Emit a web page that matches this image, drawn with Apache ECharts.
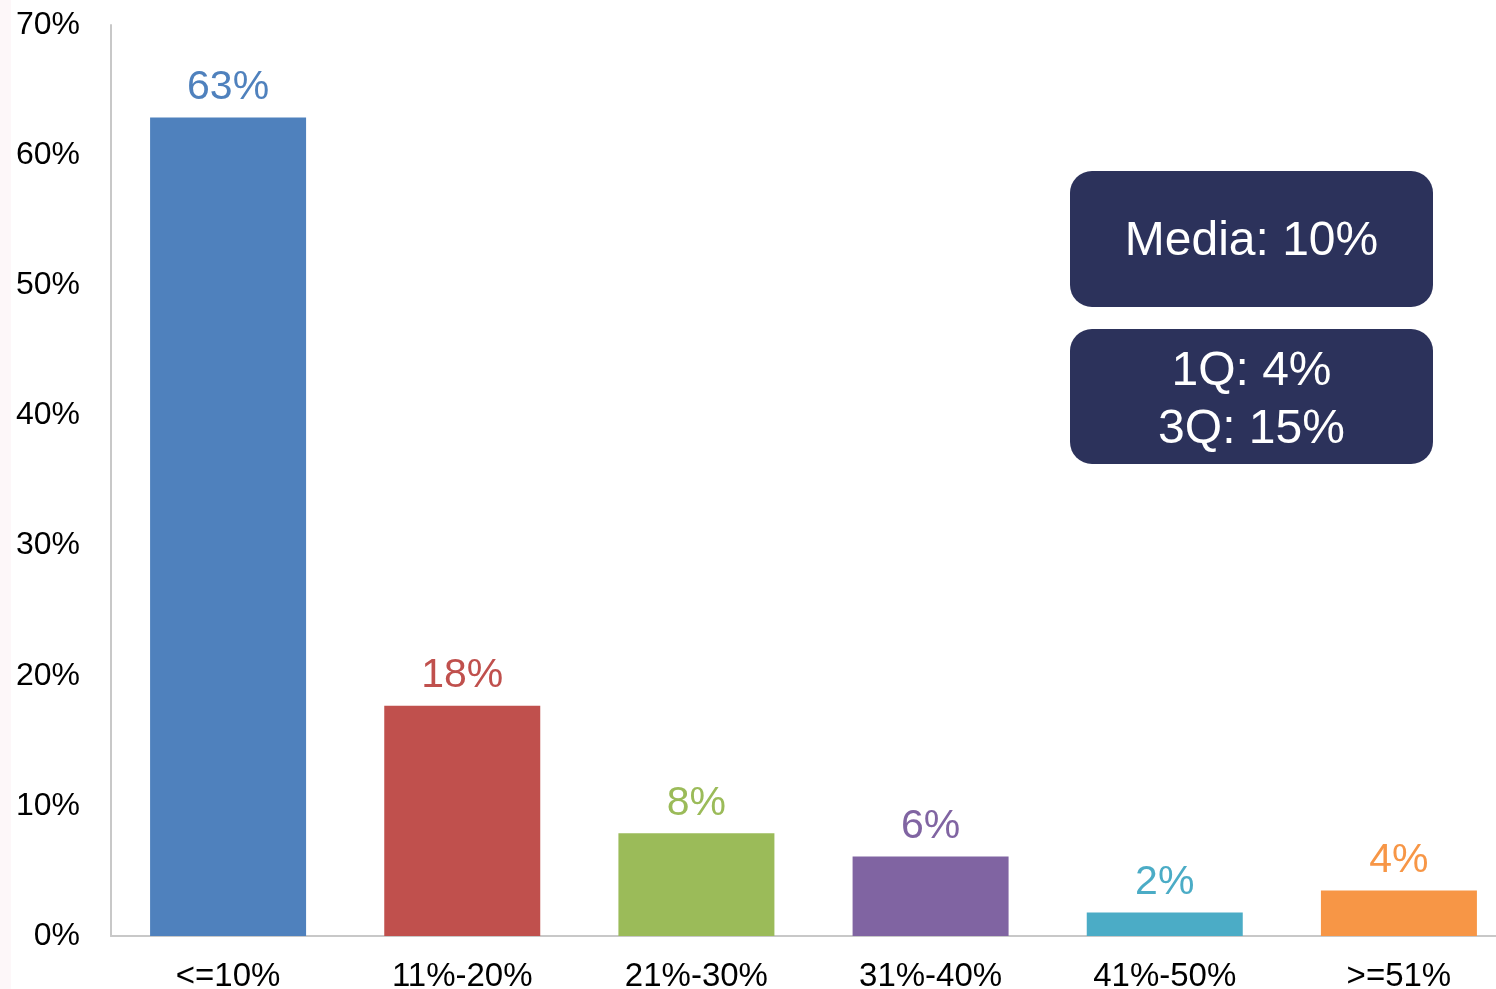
<!DOCTYPE html>
<html>
<head>
<meta charset="utf-8">
<script src="https://cdn.jsdelivr.net/npm/echarts@6/dist/echarts.min.js"></script>
<style>
html,body{margin:0;padding:0;background:#fff;overflow:hidden;width:1496px;height:989px;}
#chart{width:1520px;height:989px;}
</style>
</head>
<body>
<div id="chart"></div>
<script>
const categories = ['<=10%', '11%-20%', '21%-30%', '31%-40%', '41%-50%', '>=51%'];
const values = [62.9, 17.7, 7.9, 6.1, 1.8, 3.5];
const labels = ['63%', '18%', '8%', '6%', '2%', '4%'];
const colors = ['#4f81bd', '#c0504d', '#9bbb59', '#8064a2', '#4bacc6', '#f79646'];
const yTicks = [0, 10, 20, 30, 40, 50, 60, 70];
const boxTexts = ['Media: 10%', '1Q: 4%\n3Q: 15%'];

const FONT = '"Liberation Sans", Arial, sans-serif';
const chart = echarts.init(document.getElementById('chart'), null, {renderer: 'canvas'});

chart.setOption({
  animation: false,
  backgroundColor: '#ffffff',
  grid: {left: 111, top: 25, width: 1405, height: 911, containLabel: false, outerBoundsMode: 'none'},
  xAxis: {
    type: 'category',
    data: categories,
    axisLine: {show: true, lineStyle: {color: '#c8c8c8', width: 2}},
    axisTick: {show: false},
    axisLabel: {color: '#000', fontSize: 33, fontFamily: FONT, margin: 24}
  },
  yAxis: {
    type: 'value',
    min: yTicks[0],
    max: yTicks[yTicks.length - 1],
    interval: 10,
    axisLine: {show: true, lineStyle: {color: '#c8c8c8', width: 2}},
    axisTick: {show: false},
    splitLine: {show: false},
    axisLabel: {color: '#000', fontSize: 32, fontFamily: FONT, margin: 31,
      formatter: v => v + '%'}
  },
  series: [{
    type: 'bar',
    barWidth: 156,
    data: values.map((v, i) => ({
      value: v,
      itemStyle: {color: colors[i]},
      label: {
        show: true, position: 'top', distance: 9,
        formatter: labels[i], color: colors[i], fontSize: 41, fontFamily: FONT
      }
    }))
  }],
  graphic: [
    {type: 'rect', left: 0, top: 0, shape: {width: 11, height: 989}, style: {fill: '#fdf7f9'}, z: -1},
    {
      type: 'group', left: 1070, top: 171,
      children: [
        {type: 'rect', shape: {x: 0, y: 0, width: 363, height: 136, r: 22}, style: {fill: '#2c325b'}},
        {type: 'text', x: 181.5, y: 71, style: {text: boxTexts[0], fill: '#fff', font: '48px ' + FONT, align: 'center', verticalAlign: 'middle'}}
      ]
    },
    {
      type: 'group', left: 1070, top: 329,
      children: [
        {type: 'rect', shape: {x: 0, y: 0, width: 363, height: 135, r: 22}, style: {fill: '#2c325b'}},
        {type: 'text', x: 181.5, y: 72, style: {text: boxTexts[1], fill: '#fff', font: '48px ' + FONT, lineHeight: 58, align: 'center', verticalAlign: 'middle'}}
      ]
    }
  ]
});
</script>
</body>
</html>
